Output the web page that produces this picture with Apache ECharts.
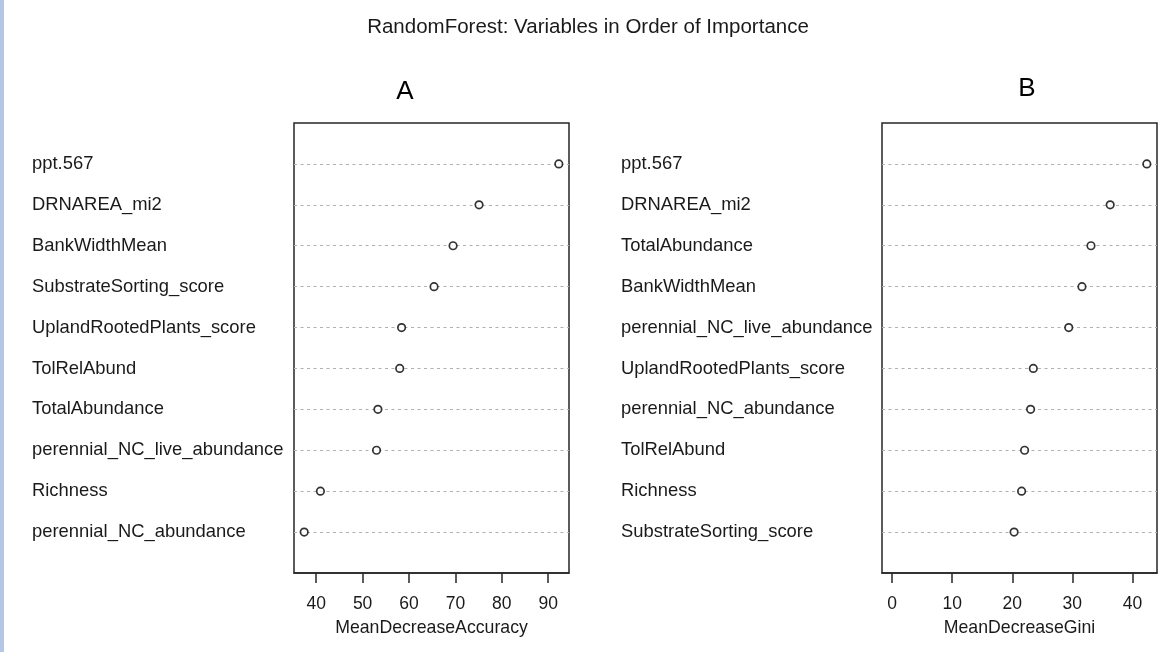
<!DOCTYPE html>
<html>
<head>
<meta charset="utf-8">
<script src="https://cdn.jsdelivr.net/npm/echarts@6/dist/echarts.min.js"></script>
<style>
  html, body { margin: 0; padding: 0; background: #ffffff; }
  #chart { width: 1167px; height: 652px; }
</style>
</head>
<body>
<div id="chart"></div>
<script>
// Variable importance from the random forest model, listed top to bottom
const accuracyVars = ['ppt.567', 'DRNAREA_mi2', 'BankWidthMean', 'SubstrateSorting_score',
  'UplandRootedPlants_score', 'TolRelAbund', 'TotalAbundance',
  'perennial_NC_live_abundance', 'Richness', 'perennial_NC_abundance'];
const meanDecreaseAccuracy = [92.3, 75.1, 69.5, 65.4, 58.4, 58.0, 53.3, 53.0, 40.9, 37.4];

const giniVars = ['ppt.567', 'DRNAREA_mi2', 'TotalAbundance', 'BankWidthMean',
  'perennial_NC_live_abundance', 'UplandRootedPlants_score', 'perennial_NC_abundance',
  'TolRelAbund', 'Richness', 'SubstrateSorting_score'];
const meanDecreaseGini = [42.4, 36.3, 33.1, 31.6, 29.4, 23.5, 23.05, 22.05, 21.55, 20.3];

const accuracyTicks = [40, 50, 60, 70, 80, 90];
const giniTicks = [0, 10, 20, 30, 40];

const FONT = '"Liberation Sans", Arial, sans-serif';
const INK = '#1a1a1a';

// R-style dot chart: rows 1..n from the bottom, axis spans 0..n+1
const n = accuracyVars.length;
const rows = Array.from({ length: n }, (_, i) => i + 1);

function pad(lo, hi) {
  const r = hi - lo;
  return [lo - 0.04 * r, hi + 0.04 * r];
}
const accRange = pad(Math.min(...meanDecreaseAccuracy), Math.max(...meanDecreaseAccuracy));
const giniRange = pad(0, Math.max(...meanDecreaseGini));

function toPoints(values) {
  return values.map((v, i) => [v, n - i]);
}

function xAxisFor(gridIndex, range, ticks, name) {
  return {
    type: 'value', gridIndex, min: range[0], max: range[1], name,
    nameLocation: 'middle', nameGap: 46,
    nameTextStyle: { fontFamily: FONT, fontSize: 17.7, color: INK },
    axisLine: { show: true, lineStyle: { color: '#262626', width: 1.5 } },
    axisTick: { show: true, customValues: ticks, length: 10, inside: false,
      lineStyle: { color: '#262626', width: 1.5 } },
    axisLabel: { customValues: ticks, margin: 22, fontFamily: FONT, fontSize: 17.5, color: INK },
    splitLine: { show: false }
  };
}

function yAxisFor(gridIndex, names, margin) {
  return {
    type: 'value', gridIndex, min: 0, max: n + 1,
    axisLine: { show: false },
    axisTick: { show: false, customValues: rows },
    axisLabel: {
      customValues: rows, margin, align: 'left',
      fontFamily: FONT, fontSize: 18.4, color: INK,
      formatter: (v) => names[n - v] || ''
    },
    splitLine: { show: true, lineStyle: { color: '#b0b0b0', width: 1.2, type: [3, 3.5] } }
  };
}

function dotSeries(idx, values) {
  return {
    type: 'scatter', xAxisIndex: idx, yAxisIndex: idx,
    data: toPoints(values), symbol: 'circle', symbolSize: 7.5,
    itemStyle: { color: '#ffffff', borderColor: '#000000', borderWidth: 1.7 },
    emphasis: { disabled: true }, z: 5
  };
}

const chart = echarts.init(document.getElementById('chart'), null, { renderer: 'canvas' });
chart.setOption({
  animation: false,
  backgroundColor: '#ffffff',
  grid: [
    { left: 294, top: 123, width: 275, height: 450, show: true,
      borderColor: '#262626', borderWidth: 1.5, backgroundColor: 'transparent' },
    { left: 882, top: 123, width: 275, height: 450, show: true,
      borderColor: '#262626', borderWidth: 1.5, backgroundColor: 'transparent' }
  ],
  xAxis: [
    xAxisFor(0, accRange, accuracyTicks, 'MeanDecreaseAccuracy'),
    xAxisFor(1, giniRange, giniTicks, 'MeanDecreaseGini')
  ],
  yAxis: [
    yAxisFor(0, accuracyVars, 262),
    yAxisFor(1, giniVars, 261)
  ],
  series: [
    dotSeries(0, meanDecreaseAccuracy),
    dotSeries(1, meanDecreaseGini)
  ],
  graphic: [
    { type: 'rect', left: 0, top: 0, shape: { width: 4, height: 652 },
      style: { fill: '#b4c7e7' } },
    { type: 'text', x: 588, y: 27,
      style: { text: 'RandomForest: Variables in Order of Importance', font: '20.5px ' + FONT,
        fill: INK, textAlign: 'center', textVerticalAlign: 'middle' } },
    { type: 'text', x: 405, y: 92,
      style: { text: 'A', font: '26px ' + FONT, fill: '#000', textAlign: 'center', textVerticalAlign: 'middle' } },
    { type: 'text', x: 1027, y: 89,
      style: { text: 'B', font: '26px ' + FONT, fill: '#000', textAlign: 'center', textVerticalAlign: 'middle' } }
  ]
});
</script>
</body>
</html>
